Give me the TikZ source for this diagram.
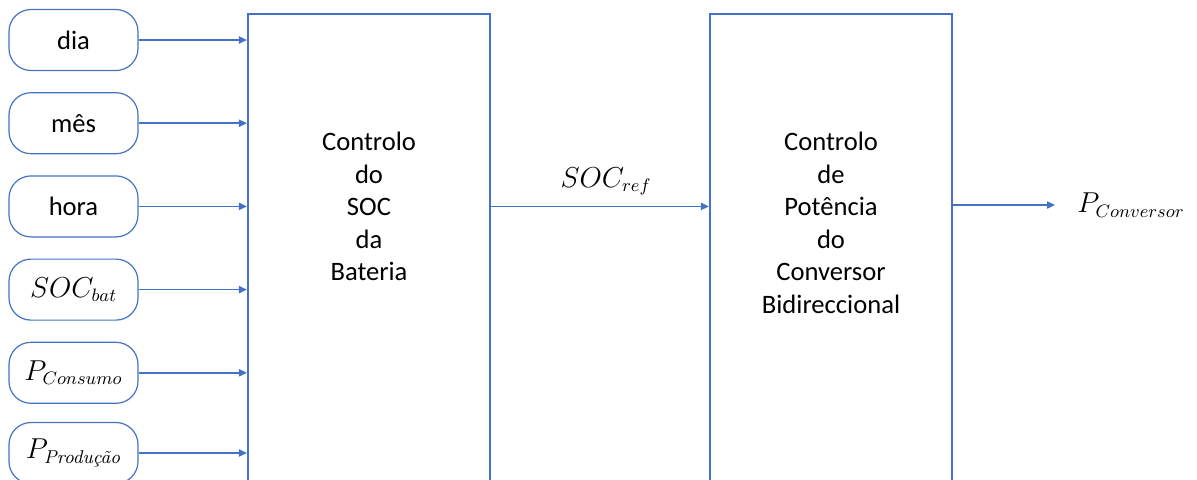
\documentclass[tikz,border=0pt]{standalone}
\usepackage{amsmath}
\usepackage{fontspec}
\setmainfont{Carlito}
\newfontfamily\lmfont{Latin Modern Roman}
\usepackage{tikz}
\usetikzlibrary{arrows.meta,positioning}
\definecolor{linkblue}{HTML}{4472C4}

\begin{document}
\begin{tikzpicture}[x=0.5pt, y=-0.5pt,
  inbox/.style={draw=linkblue, line width=0.6pt, rounded corners=11pt, minimum width=64.5pt, minimum height=30.5pt, inner sep=0pt},
  ctrlbox/.style={draw=linkblue, line width=1.1pt, minimum width=121pt, minimum height=250pt, anchor=north},
  ctrltext/.style={align=center, inner sep=0pt},
  arr/.style={-{Triangle[length=4pt,width=3.6pt]}, line width=0.8pt, draw=linkblue, fill=linkblue},
  node distance=10.5pt,
  font=\fontsize{13.3pt}{16.25pt}\selectfont
]
  \useasboundingbox (0,0) rectangle (1197,479);

  % entradas
  \node[inbox] (dia) at (73.5,40) {dia};
  \node[inbox, below=of dia] (mes) {mês};
  \node[inbox, below=of mes] (hora) {hora};
  \node[inbox, below=of hora] (socbat) {$SOC_{bat}$};
  \node[inbox, below=of socbat] (pcons) {$P_{Consumo}$};
  \node[inbox, below=9pt of pcons] (pprod) {$P_{\text{\lmfont\itshape Produção}}$};

  % blocos de controlo
  \node[ctrlbox] (socbox) at (369,13) {};
  \node[ctrltext, below=59.5pt of socbox.north] (soctxt) {Controlo\\do\\SOC\\da\\Bateria};
  \node[ctrlbox] (convbox) at (831,13) {};
  \node[ctrltext, below=59.5pt of convbox.north] (convtxt) {Controlo\\de\\Potência\\do\\Conversor\\Bidireccional};

  % saida
  \node[anchor=west, inner xsep=11pt] (pconv) at (1055,205) {$P_{Conversor}$};

  \foreach \n in {dia,mes,hora,socbat,pcons,pprod}
    \draw[arr] (\n) -- (\n -| socbox.west);
  \draw[arr] (socbox.east |- hora) -- node[above=2pt, xshift=3pt, text=black] (socref) {$SOC_{ref}$} (convbox.west |- hora);
  \draw[arr] (convbox.east |- pconv) -- (pconv.west);
\end{tikzpicture}
\end{document}
